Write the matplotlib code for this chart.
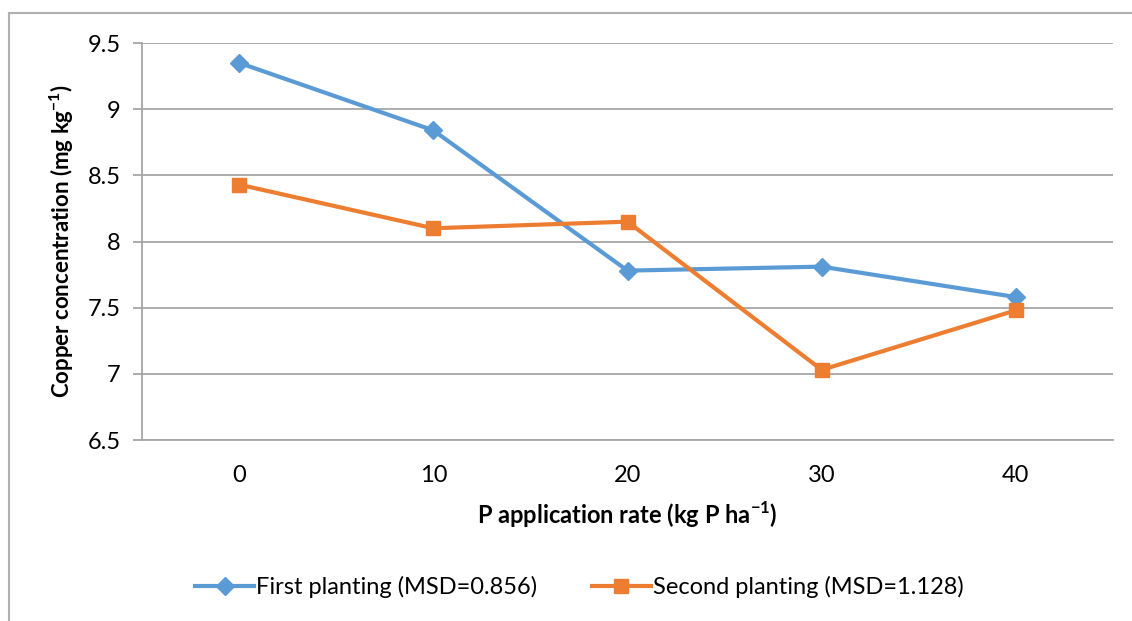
import numpy as np
import matplotlib
matplotlib.use('Agg')
import matplotlib.pyplot as plt
from matplotlib.lines import Line2D

# data
rates = ['0', '10', '20', '30', '40']
first = [9.35, 8.84, 7.78, 7.81, 7.58]
second = [8.43, 8.10, 8.15, 7.03, 7.48]
yticks = [6.5, 7, 7.5, 8, 8.5, 9, 9.5]

plt.rcParams['font.family'] = ['Lato', 'DejaVu Sans']
plt.rcParams['mathtext.fontset'] = 'custom'
plt.rcParams['mathtext.rm'] = 'Lato'
plt.rcParams['mathtext.bf'] = 'Lato:bold'

W, H = 1132, 621
fig = plt.figure(figsize=(W / 100, H / 100), dpi=100)
ax = fig.add_axes([142 / W, 1 - 440 / H, (1113 - 142) / W, (440 - 43) / H])

blue = '#5B9BD5'
orange = '#ED7D31'
grid = '#A6A6A6'

x = np.arange(len(rates))
ax.plot(x, first, color=blue, lw=3, marker='D', ms=9, label='First planting (MSD=0.856)', zorder=3)
ax.plot(x, second, color=orange, lw=3, marker='s', ms=10.5, label='Second planting (MSD=1.128)', zorder=3)

ax.set_xlim(-0.5, len(rates) - 0.5)
ax.set_ylim(6.5, 9.5)
ax.set_yticks(yticks)
ax.set_yticklabels(['6.5', '7', '7.5', '8', '8.5', '9', '9.5'])
ax.set_xticks(x)
ax.set_xticklabels(rates)
ax.yaxis.grid(True, color=grid, lw=1.3)
ax.set_axisbelow(True)

for s in ['top', 'right']:
    ax.spines[s].set_visible(False)
ax.spines['left'].set_color(grid)
ax.spines['bottom'].set_color(grid)
ax.spines['left'].set_linewidth(1.3)
ax.spines['bottom'].set_linewidth(1.3)

ax.tick_params(axis='y', length=6.5, color=grid, width=1.3, labelsize=17, pad=9)
ax.tick_params(axis='x', length=0, labelsize=17, pad=18)

ax.set_ylabel(r'Copper concentration (mg kg$^{\mathbf{-1}}$)', fontsize=16, fontweight='bold', labelpad=8)
ax.set_xlabel(r'P application rate (kg P ha$^{\mathbf{-1}}$)', fontsize=17, fontweight='bold', labelpad=10)

fig.legend(loc='center', bbox_to_anchor=(0.512, 1 - 587 / H), ncol=2, frameon=False,
           fontsize=17, handlelength=2.5, handletextpad=0.1, columnspacing=2.3)

# chart frame (left and top edges only visible)
fig.add_artist(Line2D([9 / W, 9 / W], [0, 1 - 13 / H], color='#B0B0B0', lw=1.5))
fig.add_artist(Line2D([9 / W, 1], [1 - 13 / H, 1 - 13 / H], color='#B0B0B0', lw=1.5))

fig.savefig('out.png', dpi=100)
